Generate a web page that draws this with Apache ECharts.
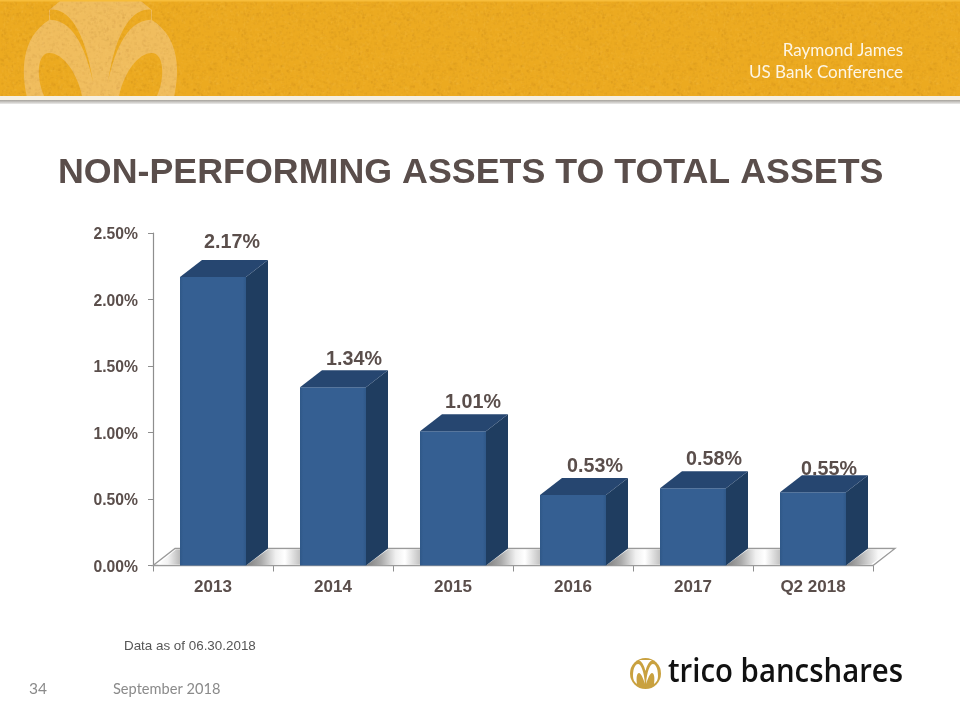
<!DOCTYPE html>
<html><head><meta charset="utf-8">
<style>html,body{margin:0;padding:0;background:#fff}#c{width:960px;height:720px}</style>
<script src="https://cdn.jsdelivr.net/npm/echarts@6/dist/echarts.min.js"></script>
</head><body><div id="c"></div>
<script>
const categories = ['2013','2014','2015','2016','2017','Q2 2018'];
const values = [2.17,1.34,1.01,0.53,0.58,0.55];
const labels = ['2.17%','1.34%','1.01%','0.53%','0.58%','0.55%'];
const yTicks = [0,0.5,1,1.5,2,2.5];
const title = 'NON-PERFORMING ASSETS TO TOTAL ASSETS';
const headerLines = ['Raymond James','US Bank Conference'];
const footnote = 'Data as of 06.30.2018';
const pageNumber = '34';
const dateText = 'September 2018';
const logoText = 'trico bancshares';

const labelShift = [[19,-34],[21,-28],[20,-29],[22,-28],[21,-29],[16,-23]];
const DX = 22, DY = 17;
const ink = '#5a4e4b';
const gold='#ecaa20', wm='#f0bd5e';

function makeGrain(){
  const c=document.createElement('canvas'); c.width=240; c.height=96;
  const g=c.getContext('2d'); let s=12345;
  const next=()=>{s=(s*1103515245+12345)&0x7fffffff; return s/0x7fffffff;};
  for(let i=0;i<5200;i++){
    const x=next()*240,y=next()*96,d=next()<0.55;
    g.fillStyle=d?'rgba(140,90,0,'+(0.02+next()*0.04)+')':'rgba(255,225,150,'+(0.02+next()*0.04)+')';
    g.fillRect(x,y,1+next()*2,1+next()*2);
  }
  return c;
}

function renderBar(params, api){
  const i = api.value(0);
  const top = api.coord([i, api.value(1)]);
  const base = api.coord([i, 0]);
  const w = api.size([1,0])[0]*0.55;
  const l = top[0]-w/2, r = top[0]+w/2, t = top[1], b = base[1];
  const s = labelShift[i];
  return {type:'group', children:[
    {type:'rect', shape:{x:l,y:t,width:w,height:b-t},
      style:{fill:{type:'linear',x:0,y:0,x2:1,y2:0,colorStops:[{offset:0,color:'#2f5888'},{offset:0.05,color:'#355f92'},{offset:0.95,color:'#355f92'},{offset:1,color:'#2f5888'}]}}},
    {type:'polygon', shape:{points:[[r,t],[r+DX,t-DY],[r+DX,b-DY],[r,b]]}, style:{fill:'#1f3d60'}},
    {type:'polygon', shape:{points:[[l,t],[l+DX,t-DY],[r+DX,t-DY],[r,t]]}, style:{fill:'#264670'}},
    {type:'text', x:top[0]+s[0], y:t+s[1], style:{text:labels[i], fill:ink, font:'bold 19.7px "Liberation Sans"', align:'center', verticalAlign:'middle'}}
  ]};
}
function hGrad(stops){
  return {type:'linear',x:0,y:0.5,x2:1,y2:0.5,colorStops:stops.map(p=>({offset:p[0],color:p[1]}))};
}
function renderFloor(params, api){
  const band = api.size([1,0])[0];
  const c = api.coord([0,0]);
  const x0 = c[0]-band/2, y0 = c[1], n = categories.length;
  const x1 = x0+band*n;
  const kids = [{type:'polygon', shape:{points:[[x0,y0],[x0+DX,y0-DY],[x1+DX,y0-DY],[x1,y0]]}, style:{fill:'#fff',stroke:'#9a9a9a',lineWidth:1.3}}];
  const w = band*0.55, top=y0-DY+1, bot=y0-1;
  const L = k=>x0+band*k+band/2-w/2, R = k=>x0+band*k+band/2+w/2;
  kids.push({type:'polygon',shape:{points:[[x0+5,bot],[x0+DX+1,top],[L(0),top],[L(0),bot]]},
    style:{fill:hGrad([[0,'#ffffff'],[0.45,'#f2f2f2'],[1,'#b8b8b8']])}});
  for(let k=0;k<n-1;k++){
    kids.push({type:'polygon',shape:{points:[[R(k),y0],[R(k)+DX,top],[L(k+1),top],[L(k+1),bot]]},
      style:{fill:hGrad([[0,'#7f7f7f'],[0.28,'#aaaaaa'],[0.55,'#f0f0f0'],[0.72,'#ffffff'],[1,'#c2c2c2']])}});
  }
  kids.push({type:'polygon',shape:{points:[[R(n-1),y0],[R(n-1)+DX,top],[x1+DX-3,top],[x1-2,bot]]},
    style:{fill:hGrad([[0,'#7f7f7f'],[0.3,'#b0b0b0'],[0.7,'#f8f8f8'],[1,'#ffffff']])}});
  return {type:'group', children:kids};
}
function pathEl(d,x,y,width,height,fill){
  return {type:'path',shape:{pathData:d,x:x,y:y,width:width,height:height,layout:'cover'},style:{fill:fill}};
}
function renderDecor(){
  return {type:'group',children:[
    pathEl('M28,96 C23,72 22,38 50,20 L50,10 L62,0 L139,0 L151,10 L151,20 C179,38 178,72 173,96 Z',23.9,0,153.2,96,wm),
    pathEl('M45,96 C37,78 38,53 50,53 C63,53 77,72 82,96 Z',38.8,53,43.2,43,gold),
    pathEl('M156,96 C164,78 163,53 151,53 C138,53 124,72 119,96 Z',119,53,43.2,43,gold),
    pathEl('M50,10 C67,9 84,26 93,82 C88,58 76,20 50,20 Z',50,9.6,43,72.4,gold),
    pathEl('M151,10 C134,9 117,26 108,82 C113,58 125,20 151,20 Z',108,9.6,43,72.4,gold),
    pathEl('M633,676 C633,667 636,664 638,664 C641,664 644,671 645,684 C643,678 641,673 639,673 C637,673 636,677 637,684 C634,682 633,679 633,676 Z',633,664,12,20,'#fff'),
    pathEl('M658,676 C658,667 655,664 653,664 C650,664 647,671 646,684 C648,678 650,673 652,673 C654,673 655,677 654,684 C657,682 658,679 658,676 Z',646,664,12,20,'#fff'),
    pathEl('M639,660 L652,660 C649,662 647,665 645.5,671 C644,665 642,662 639,660 Z',639,660,13,11,'#fff')
  ]};
}
const chart = echarts.init(document.getElementById('c'),null,{renderer:'canvas'});
chart.setOption({
  animation:false,
  backgroundColor:'#fff',
  graphic:[
    {type:'rect',z:-10,shape:{x:0,y:0,width:960,height:96},style:{fill:gold}},
    {type:'rect',z:-10,shape:{x:0,y:96,width:960,height:4},style:{fill:'#f6f0e2'}},
    {type:'rect',z:-10,shape:{x:0,y:100,width:960,height:4},style:{fill:{type:'linear',x:0,y:0,x2:0,y2:1,colorStops:[{offset:0,color:'#a6a29c'},{offset:1,color:'#ecebea'}]}}},
    {type:'circle',z:-10,shape:{cx:645.5,cy:673.5,r:15.5},style:{fill:'#c9a13f'}},
    {type:'rect',z:1,silent:true,shape:{x:0,y:0,width:960,height:96},style:{fill:{image:makeGrain(),repeat:'repeat'}}},
    {type:'rect',z:1,shape:{x:0,y:0,width:960,height:1.5},style:{fill:'#f7bd3a'}},
    {type:'text',z:5,x:903,y:50.5,scaleX:0.945,style:{text:headerLines[0],x:0,y:0,align:'right',verticalAlign:'middle',fill:'#fdf6e6',font:'18px Lato'}},
    {type:'text',z:5,x:903,y:72.5,scaleX:0.945,style:{text:headerLines[1],x:0,y:0,align:'right',verticalAlign:'middle',fill:'#fdf6e6',font:'18px Lato'}},
    {type:'text',style:{text:title,x:58,y:173,align:'left',verticalAlign:'middle',fill:ink,font:'bold 35.8px "Liberation Sans"'}},
    {type:'text',style:{text:footnote,x:124,y:646,align:'left',verticalAlign:'middle',fill:'#555',font:'13.4px "Liberation Sans"'}},
    {type:'text',style:{text:pageNumber,x:29,y:689,align:'left',verticalAlign:'middle',fill:'#8a8a8a',font:'15.5px Lato'}},
    {type:'text',style:{text:dateText,x:113,y:689,align:'left',verticalAlign:'middle',fill:'#8a8a8a',font:'14.6px Lato'}},
    {type:'text',x:668,y:673,scaleX:0.89,style:{text:logoText,x:0,y:0,align:'left',verticalAlign:'middle',fill:'#111',font:'600 33px "Open Sans"'}}
  ],
  grid:{left:153,top:233,width:720,height:332.5,containLabel:false},
  xAxis:{type:'category',data:categories,boundaryGap:true,
    axisLine:{lineStyle:{color:'#8e8e8e',width:1.2}},
    axisTick:{show:true,alignWithLabel:false,length:6,lineStyle:{color:'#8e8e8e'}},
    axisLabel:{color:ink,fontWeight:'bold',fontSize:17,fontFamily:'Liberation Sans',margin:13}},
  yAxis:{type:'value',min:yTicks[0],max:yTicks[yTicks.length-1],interval:0.5,
    axisLine:{show:true,lineStyle:{color:'#8e8e8e',width:1.2}},
    axisTick:{show:true,length:5,lineStyle:{color:'#8e8e8e'}},
    splitLine:{show:false},
    axisLabel:{color:ink,fontWeight:'bold',fontSize:15.7,fontFamily:'Liberation Sans',margin:15,verticalAlign:'top',lineHeight:4,formatter:v=>v.toFixed(2)+'%'}},
  series:[
    {type:'custom',clip:false,z:1,renderItem:renderFloor,data:[[0,0]],silent:true},
    {type:'custom',clip:false,z:3,renderItem:renderBar,encode:{x:0,y:1},data:values.map((v,i)=>[i,v])},
    {type:'custom',clip:false,z:0,renderItem:renderDecor,data:[[0,0]],silent:true}
  ]
});
</script></body></html>
